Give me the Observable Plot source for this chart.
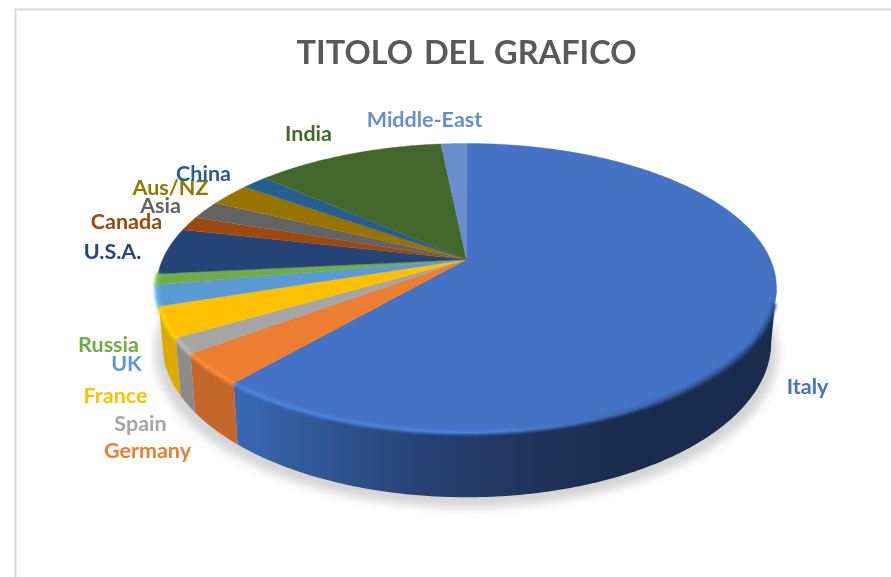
<!DOCTYPE html>
<html>
<head>
<meta charset="utf-8">
<script src="https://cdn.jsdelivr.net/npm/d3@7"></script>
<script src="https://cdn.jsdelivr.net/npm/@observablehq/plot@0.6"></script>
<style>html,body{margin:0;padding:0;background:#fff}svg{display:block}</style>
</head>
<body>
<div id="chart"></div>
<script>
const title = "TITOLO DEL GRAFICO";
const names = ["Italy","Germany","Spain","France","UK","Russia","U.S.A.","Canada","Asia","Aus/NZ","China","India","Middle-East"];
const shares = [61.3,3.5,1.7,3.4,2.3,1.2,5.2,1.6,2.1,2.6,1.6,11.9,1.6];
const topColors = ["#4472c4","#ed7d31","#a5a5a5","#ffc000","#5b9bd5","#70ad47","#264478","#9e480e","#636363","#997300","#255e91","#43682b","#698ed0"];
const wallColors = ["url(#wallItaly)","#c4672a","#8b8b8b","#dcaa00","#4d85b8","#5f9440","#203a66","#86400c","#545454","#826200","#1f507c","#395924","#5a79b0"];
const rimColors = ["url(#rimItaly)","#fb8c3a","#bcbcbc","#ffd500","#66b5f2","#7fc655",null,null,null,null,null,null,null];
// hand placement of the data labels, as in the source picture
const labelX = [807,147,140,115,126,108,112,126,160,170,203,308,424];
const labelY = [387,451,424,396,364,345,252,222,206,188,174,134,120];

// tilted, perspective view of the disc
const cx = 466, cy = 259, a = 303.9, b = 138.9, k = 0.197, wall = 52, taper = 0.983;
const rim = deg => {
  const t = deg * Math.PI / 180, u = Math.sin(t), v = -Math.cos(t), w = 1 - k * v;
  return {x: cx + a * u / w, y: cy + b * v / w, w};
};
const low = (deg, extra = 0, tap = taper) => {
  const p = rim(deg);
  return {x: cx + (p.x - cx) * tap, y: p.y + wall / p.w + extra};
};
const steps = (s, e) => d3.range(s, e, 0.5).concat([e]);

const total = d3.sum(shares);
let acc = 0;
const slices = names.map((name, i) => {
  const start = acc / total * 360; acc += shares[i];
  return {name, i, start, end: acc / total * 360};
});
const tops = slices.flatMap(s => [
  {name: s.name, x: cx, y: cy},
  ...steps(s.start, s.end).map(d => ({name: s.name, ...rim(d)}))
]);
const lastWalled = slices[names.indexOf("France")].end;
const walls = slices.map(s => {
  const from = Math.max(s.start, 101.4), to = Math.min(s.end, lastWalled);
  if (to <= from) return null;
  const ang = steps(from, to);
  return {i: s.i, pts: [...ang.map(rim), ...ang.slice().reverse().map(d => low(d))]};
}).filter(Boolean);
const rims = slices.map(s => {
  const from = Math.max(s.start, 108), to = Math.min(s.end, 265);
  if (to <= from || !rimColors[s.i]) return null;
  return {i: s.i, pts: steps(from, to).map(rim)};
}).filter(Boolean);
const shadow = d3.range(0, 360.5, 1).map(d => low(d, 10, 1.005));
const labels = names.map((name, i) => ({name, x: labelX[i], y: labelY[i]}));

function defs() {
  const d = d3.create("svg:defs");
  const grad = (id, stops) => {
    const g = d.append("linearGradient").attr("id", id).attr("x1", 0).attr("x2", 1).attr("y1", 0).attr("y2", 0);
    stops.forEach(([o, c]) => g.append("stop").attr("offset", o).attr("stop-color", c));
  };
  grad("wallItaly", [[0,"#3869b5"],[0.18,"#2f5491"],[0.37,"#264070"],[0.57,"#1f3259"],[0.72,"#1a2c4e"],[1,"#1a2b4c"]]);
  grad("rimItaly", [[0,"#4c86e2"],[0.5,"#4a82dc"],[0.72,"#3c68b4"],[0.85,"#2c4e88"],[1,"#2c4e88"]]);
  return d.node();
}

const chart = Plot.plot({
  width: 891, height: 577, margin: 0,
  style: {background: "#fff", wordSpacing: "3px"},
  x: {domain: [0, 891], axis: null},
  y: {domain: [577, 0], axis: null},
  color: {domain: names, range: topColors},
  marks: [
    defs,
    Plot.ruleX([15], {y1: 9, y2: 577, stroke: "#d9d9d9", strokeWidth: 2}),
    Plot.ruleY([9], {x1: 14, x2: 891, stroke: "#d9d9d9", strokeWidth: 2}),
    Plot.line(shadow, {x: "x", y: "y", fill: "#d4d4d4", stroke: "none", imageFilter: "blur(5px)"}),
    ...walls.map(s => Plot.line(s.pts, {x: "x", y: "y", fill: wallColors[s.i], stroke: "none"})),
    Plot.line(tops, {x: "x", y: "y", z: "name", fill: "name", stroke: "name", strokeWidth: 0.4}),
    ...rims.map(s => Plot.line(s.pts, {x: "x", y: "y", stroke: rimColors[s.i], strokeWidth: 4, imageFilter: "blur(1.5px)"})),
    Plot.text([title], {x: () => 466, y: () => 53, text: d => d, fontFamily: "Lato", fontWeight: 700, fontSize: 32.5, fill: "#595959", imageFilter: "blur(0.4px)"}),
    Plot.text(labels, {x: "x", y: "y", text: "name", fill: "name", fontFamily: "Lato", fontWeight: 700, fontSize: 21.5, imageFilter: "blur(0.4px)"})
  ]
});
document.getElementById("chart").append(chart);
</script>
</body>
</html>
